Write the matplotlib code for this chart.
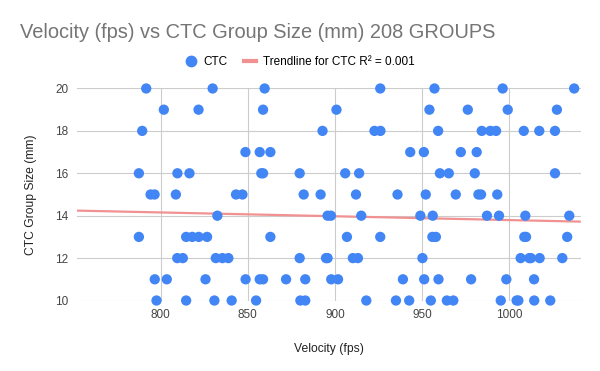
import matplotlib
matplotlib.use("Agg")
import matplotlib.pyplot as plt
import numpy as np
from matplotlib.lines import Line2D

plt.rcParams['font.family'] = ['Liberation Sans', 'DejaVu Sans']

# Data: velocity (fps) grouped by CTC group size (mm)
size_20 = [791.8, 829.9, 859.7, 926.0, 957.1, 996.2, 1037.2]
size_19 = [801.9, 821.8, 858.8, 900.9, 954.2, 976.2, 999.1, 1027.3]
size_18 = [789.5, 892.9, 922.7, 926.1, 959.2, 984.2, 989.1, 992.4, 1008.3, 1017.2, 1026.2]
size_17 = [848.7, 856.9, 863.0, 943.2, 951.0, 972.2, 981.3]
size_16 = [787.6, 809.7, 816.6, 857.8, 858.8, 879.8, 905.9, 913.9, 960.2, 965.3, 980.2, 1026.2]
size_15 = [794.3, 796.6, 808.8, 843.3, 847.0, 882.1, 891.8, 912.1, 935.9, 952.1, 969.3, 982.3, 983.8, 993.1]
size_14 = [832.6, 895.8, 897.7, 915.1, 949.0, 956.1, 987.2, 994.1, 1009.2, 1034.4]
size_13 = [787.6, 814.7, 818.2, 821.9, 826.7, 863.0, 906.9, 926.0, 955.9, 957.9, 1008.6, 1009.6, 1033.2]
size_12 = [809.6, 812.8, 831.7, 835.5, 838.9, 879.8, 894.9, 895.8, 910.3, 913.2, 950.2, 1006.5, 1011.5, 1012.4, 1017.4, 1030.4]
size_11 = [796.7, 803.6, 825.8, 848.8, 856.9, 858.8, 872.0, 883.0, 897.9, 901.8, 939.0, 951.2, 959.4, 978.1, 998.3, 1014.2]
size_10 = [797.7, 814.7, 830.9, 840.8, 854.8, 880.2, 883.0, 918.0, 935.0, 942.6, 955.0, 964.2, 967.9, 995.1, 1004.2, 1005.2, 1014.3, 1023.5]

groups = {20: size_20, 19: size_19, 18: size_18, 17: size_17, 16: size_16, 15: size_15,
          14: size_14, 13: size_13, 12: size_12, 11: size_11, 10: size_10}

# Trendline endpoints
trend_x = [752, 1041]
trend_y = [14.24, 13.72]

x_ticks = [800, 850, 900, 950, 1000]
y_ticks = [10, 12, 14, 16, 18, 20]

velocity = []
gsize = []
for k, v in groups.items():
    velocity.extend(v)
    gsize.extend([k] * len(v))

fig = plt.figure(figsize=(6.0, 3.71), dpi=100)
ax = fig.add_axes([0.128, 0.19, 0.84, 0.5715])

blue = '#4285F4'
trend_col = '#F29191'

ax.set_xlim(752, 1041)
ax.set_ylim(10, 20)
ax.set_xticks(x_ticks)
ax.set_yticks(y_ticks)
ax.grid(True, color='#cccccc', linewidth=0.8)
ax.set_axisbelow(True)
for s in ax.spines.values():
    s.set_visible(False)
ax.tick_params(length=0, labelsize=8.5, labelcolor='#444444', pad=6)

ax.plot(trend_x, trend_y, color=trend_col, linewidth=1.6, zorder=2, solid_capstyle='butt')
ax.scatter(velocity, gsize, s=55, color=blue, edgecolors='none', zorder=3, clip_on=False)

ax.set_xlabel('Velocity (fps)', fontsize=8.75, color='#222222', labelpad=16)
ax.set_ylabel('CTC Group Size (mm)', fontsize=8.75, color='#222222', labelpad=13)

fig.text(0.033, 0.8968, 'Velocity (fps) vs CTC Group Size (mm) 208 GROUPS',
         fontsize=14.4, color='#757575', ha='left', va='baseline')

handles = [Line2D([0], [0], marker='o', linestyle='none', markersize=8.5,
                  markerfacecolor=blue, markeredgecolor='none'),
           Line2D([0], [0], color=trend_col, linewidth=3)]
fig.legend(handles, ['CTC', 'Trendline for CTC R² = 0.001'], loc='center',
           bbox_to_anchor=(0.5, 0.8337), ncol=2, frameon=False, fontsize=8.5,
           handlelength=1.0, columnspacing=1.4, handletextpad=0.6)

fig.savefig('out.png', dpi=100)
